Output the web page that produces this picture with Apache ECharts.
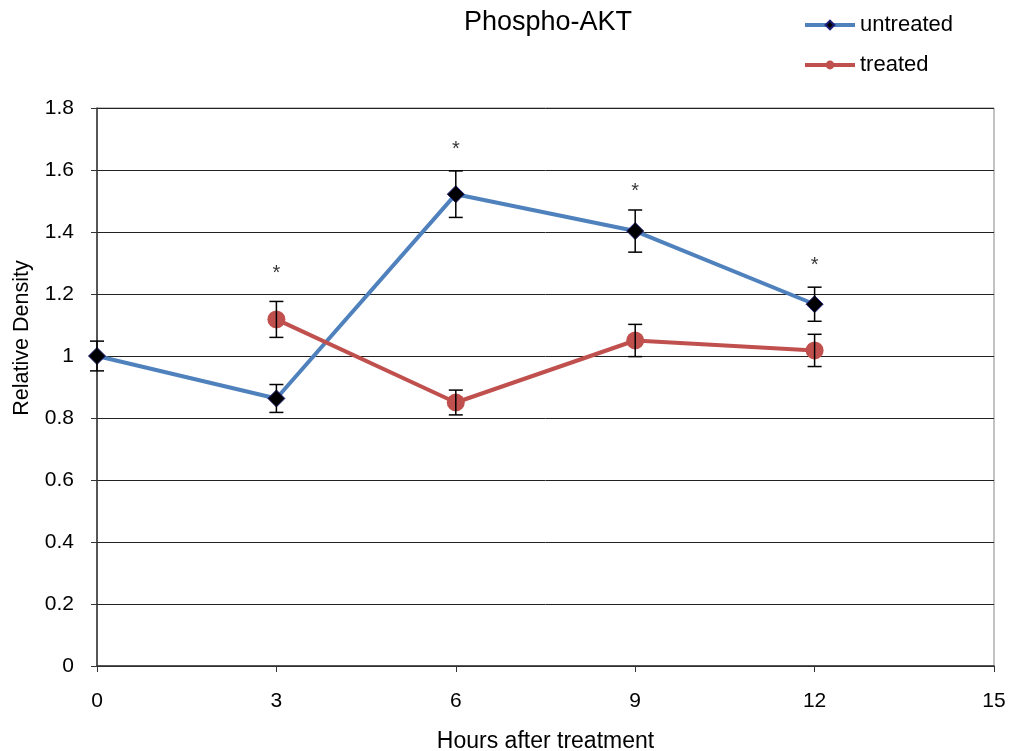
<!DOCTYPE html>
<html>
<head>
<meta charset="utf-8">
<script src="https://cdn.jsdelivr.net/npm/echarts@6/dist/echarts.min.js"></script>
<style>html,body{margin:0;padding:0;background:#fff;}#c{width:1011px;height:751px;}</style>
</head>
<body>
<div id="c"></div>
<script>
const hours = [0, 3, 6, 9, 12];
const untreated = [1.0, 0.863, 1.522, 1.403, 1.167];
const untreatedErr = [0.048, 0.045, 0.075, 0.068, 0.055];
const treatedHours = [3, 6, 9, 12];
const treated = [1.118, 0.850, 1.050, 1.018];
const treatedErr = [0.058, 0.040, 0.052, 0.052];
const starHours = [3, 6, 9, 12];
const starY = [1.267, 1.667, 1.532, 1.292];
const xTicks = [0, 3, 6, 9, 12, 15];
const yTicks = [0, 0.2, 0.4, 0.6, 0.8, 1, 1.2, 1.4, 1.6, 1.8];

const FONT = '"Liberation Sans", Arial, sans-serif';

function errData(xs, ys, es) {
  return xs.map((x, i) => [x, ys[i], ys[i] - es[i], ys[i] + es[i]]);
}
function errRender(params, api) {
  const x = api.value(0);
  const lo = api.coord([x, api.value(2)]);
  const hi = api.coord([x, api.value(3)]);
  const hw = 7;
  const st = {stroke: '#000', lineWidth: 1.5};
  return {
    type: 'group',
    children: [
      {type: 'line', shape: {x1: lo[0], y1: lo[1], x2: hi[0], y2: hi[1]}, style: st},
      {type: 'line', shape: {x1: lo[0] - hw, y1: lo[1], x2: lo[0] + hw, y2: lo[1]}, style: st},
      {type: 'line', shape: {x1: hi[0] - hw, y1: hi[1], x2: hi[0] + hw, y2: hi[1]}, style: st}
    ]
  };
}

const chart = echarts.init(document.getElementById('c'), null, {renderer: 'canvas'});
chart.setOption({
  animation: false,
  backgroundColor: '#fff',
  title: {
    text: 'Phospho-AKT',
    left: 543, top: 4, textAlign: 'center',
    textStyle: {fontFamily: FONT, fontSize: 27, fontWeight: 'normal', color: '#000'}
  },
  legend: {
    orient: 'vertical',
    left: 798, top: 9,
    itemGap: 18,
    itemWidth: 50, itemHeight: 11,
    lineStyle: {width: 4},
    data: ['untreated', 'treated'],
    textStyle: {fontFamily: FONT, fontSize: 22, color: '#000'}
  },
  graphic: [{
    type: 'text', x: 22, y: 338, rotation: Math.PI / 2,
    style: {text: 'Relative Density', fontFamily: FONT, fontSize: 21.5, fill: '#000',
      align: 'center', verticalAlign: 'middle'}
  }],
  grid: {left: 97, right: 17, top: 108, bottom: 85, containLabel: false, outerBoundsMode: 'none',
    show: true, borderColor: '#888', borderWidth: 1},
  xAxis: {
    type: 'value', min: 0, max: 15, interval: 3,
    name: 'Hours after treatment', nameLocation: 'middle', nameGap: 64,
    nameTextStyle: {fontFamily: FONT, fontSize: 23, color: '#000'},
    axisLine: {show: true, lineStyle: {color: '#333', width: 1.5}},
    axisTick: {show: true, length: 6, lineStyle: {color: '#333'}},
    axisLabel: {fontFamily: FONT, fontSize: 21, color: '#000', margin: 25},
    splitLine: {show: false}
  },
  yAxis: {
    type: 'value', min: 0, max: 1.8, interval: 0.2,
    axisLine: {show: true, lineStyle: {color: '#333', width: 1.5}},
    axisTick: {show: true, length: 6, lineStyle: {color: '#333'}},
    axisLabel: {fontFamily: FONT, fontSize: 21, color: '#000', margin: 23,
      formatter: v => String(Math.round(v * 10) / 10)},
    splitLine: {show: true, lineStyle: {color: '#222', width: 1}}
  },
  series: [
    {
      name: 'untreated', type: 'line',
      data: hours.map((h, i) => [h, untreated[i]]),
      lineStyle: {color: '#4F81BD', width: 4},
      itemStyle: {color: '#000', borderColor: '#1F1F7A', borderWidth: 1},
      color: '#4F81BD',
      symbol: 'diamond', symbolSize: 17, z: 3
    },
    {
      name: 'treated', type: 'line',
      data: treatedHours.map((h, i) => [h, treated[i]]),
      lineStyle: {color: '#C0504D', width: 4},
      itemStyle: {color: '#C0504D'},
      color: '#C0504D',
      symbol: 'circle', symbolSize: 18, z: 3
    },
    {
      type: 'custom', renderItem: errRender, z: 4, silent: true,
      data: errData(hours, untreated, untreatedErr)
    },
    {
      type: 'custom', renderItem: errRender, z: 4, silent: true,
      data: errData(treatedHours, treated, treatedErr)
    },
    {
      type: 'scatter', symbolSize: 0, silent: true,
      data: starHours.map((h, i) => [h, starY[i]]),
      label: {show: true, formatter: '*', position: 'inside', fontFamily: FONT, fontSize: 20, color: '#000'}
    }
  ]
});
</script>
</body>
</html>
